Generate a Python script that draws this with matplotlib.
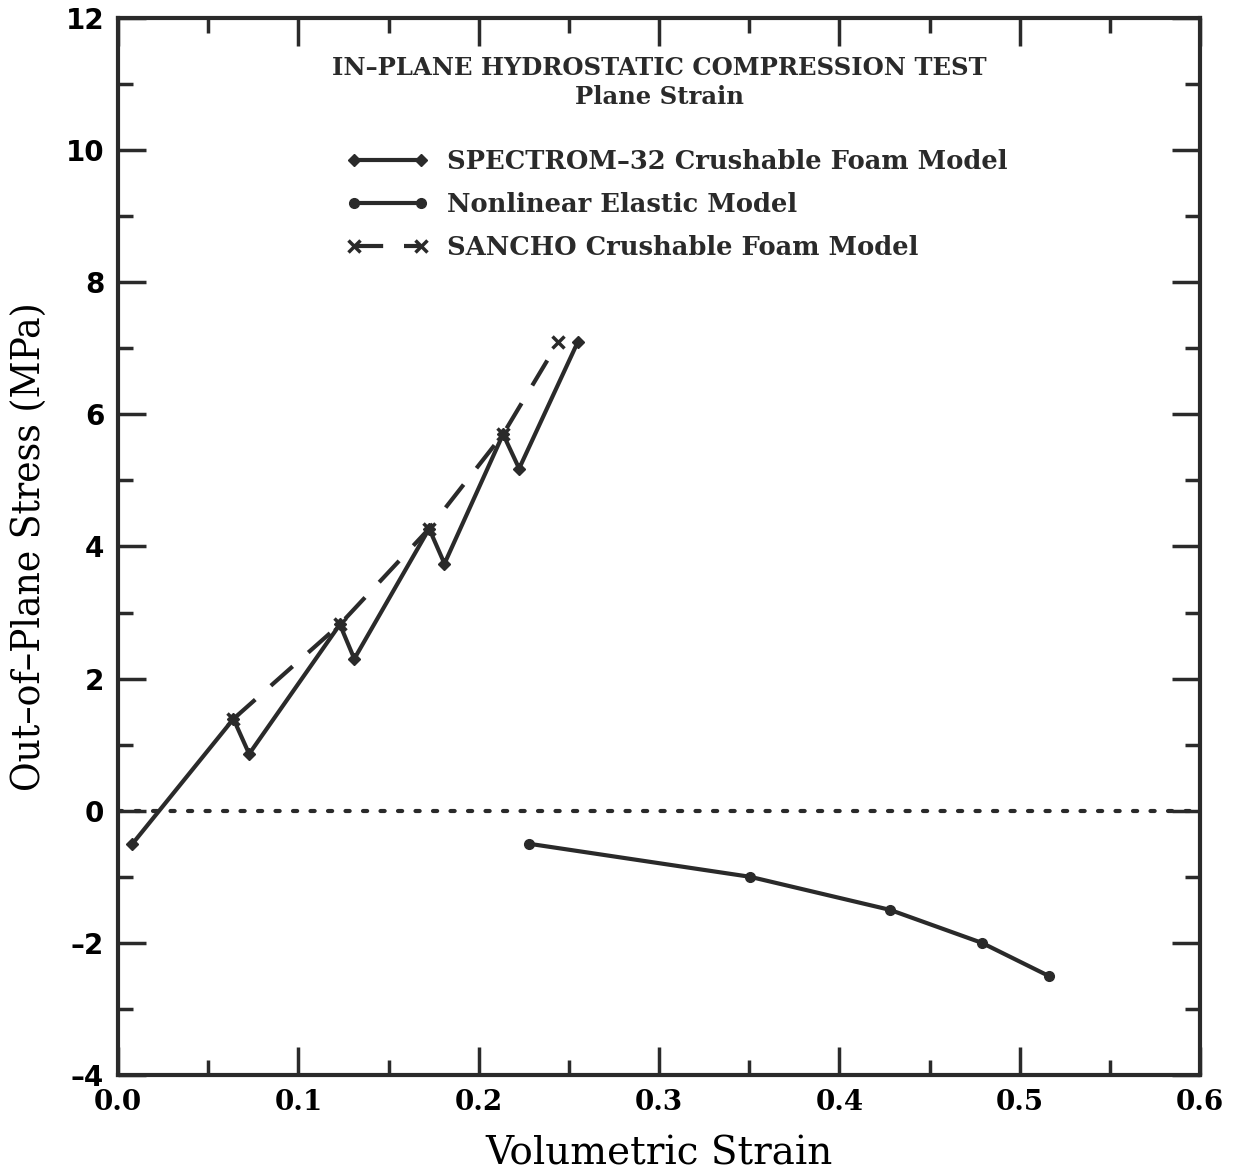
import matplotlib
matplotlib.use("Agg")
import matplotlib.pyplot as plt
from matplotlib.ticker import MultipleLocator, FixedLocator

# dados
spectrom_x = [0.008, 0.064, 0.0727, 0.123, 0.131, 0.1725, 0.181, 0.2135, 0.2224, 0.255]
spectrom_y = [-0.5, 1.39, 0.86, 2.82, 2.30, 4.27, 3.74, 5.70, 5.18, 7.10]

sancho_x = [0.064, 0.123, 0.1725, 0.2135, 0.244]
sancho_y = [1.39, 2.82, 4.27, 5.70, 7.09]

elastic_x = [0.228, 0.3505, 0.428, 0.479, 0.516]
elastic_y = [-0.5, -1.0, -1.5, -2.0, -2.5]

x_ticks = [0.0, 0.1, 0.2, 0.3, 0.4, 0.5, 0.6]
x_labels = ['0.0', '0.1', '0.2', '0.3', '0.4', '0.5', '0.6']
y_ticks = [-4, -2, 0, 2, 4, 6, 8, 10, 12]
y_labels = ['\u20134', '\u20132', '0', '2', '4', '6', '8', '10', '12']

cor = '#2a2a2a'
serif = 'DejaVu Serif'

fig = plt.figure(figsize=(12.36, 11.75), dpi=100)
ax = fig.add_axes([0.0955, 0.0851, 0.8755, 0.8996])

ax.axhline(0, color=cor, lw=3, ls=(0, (1, 3.2)), dash_capstyle='round', zorder=1)

ax.plot(spectrom_x, spectrom_y, color=cor, lw=3, marker='D', ms=6,
        label='SPECTROM\u201332 Crushable Foam Model', zorder=3)
ax.plot(elastic_x, elastic_y, color=cor, lw=3, marker='o', ms=7,
        label='Nonlinear Elastic Model', zorder=3)
ax.plot(sancho_x, sancho_y, color=cor, lw=3, ls=(0, (7, 5)), marker='x', ms=8, mew=2.5,
        label='SANCHO Crushable Foam Model', zorder=2)

ax.set_xlim(0, 0.6)
ax.set_ylim(-4, 12)

ax.xaxis.set_major_locator(FixedLocator(x_ticks))
ax.set_xticklabels(x_labels, fontfamily=serif, fontweight='bold', fontsize=20)
ax.xaxis.set_minor_locator(MultipleLocator(0.05))
ax.yaxis.set_major_locator(FixedLocator(y_ticks))
ax.set_yticklabels(y_labels, fontfamily='DejaVu Sans', fontweight='bold', fontsize=20)
ax.yaxis.set_minor_locator(MultipleLocator(1))

ax.tick_params(which='both', direction='in', top=True, right=True, color=cor)
ax.tick_params(which='major', length=20, width=2.5, pad=10)
ax.tick_params(which='minor', length=11, width=2.5)
for s in ax.spines.values():
    s.set_linewidth(3)
    s.set_color(cor)

ax.set_xlabel('Volumetric Strain', fontfamily=serif, fontsize=28, labelpad=14)
ax.set_ylabel('Out\u2013of\u2013Plane Stress (MPa)', fontfamily=serif, fontsize=29,
              fontstretch='condensed', labelpad=12)

ax.text(0.5, 0.9527, 'IN\u2013PLANE HYDROSTATIC COMPRESSION TEST', transform=ax.transAxes,
        ha='center', va='center', fontfamily=serif, fontweight='bold', fontsize=17.5, color=cor)
ax.text(0.5, 0.925, 'Plane Strain', transform=ax.transAxes,
        ha='center', va='center', fontfamily=serif, fontweight='bold', fontsize=17.5, color=cor)

leg = ax.legend(loc='upper left', bbox_to_anchor=(0.19, 0.898), frameon=False,
                prop={'family': serif, 'weight': 'bold', 'size': 18.5},
                handlelength=3.2, handletextpad=0.7, labelspacing=0.7, numpoints=2)
for t in leg.get_texts():
    t.set_color(cor)

fig.savefig('out.png', dpi=100)
